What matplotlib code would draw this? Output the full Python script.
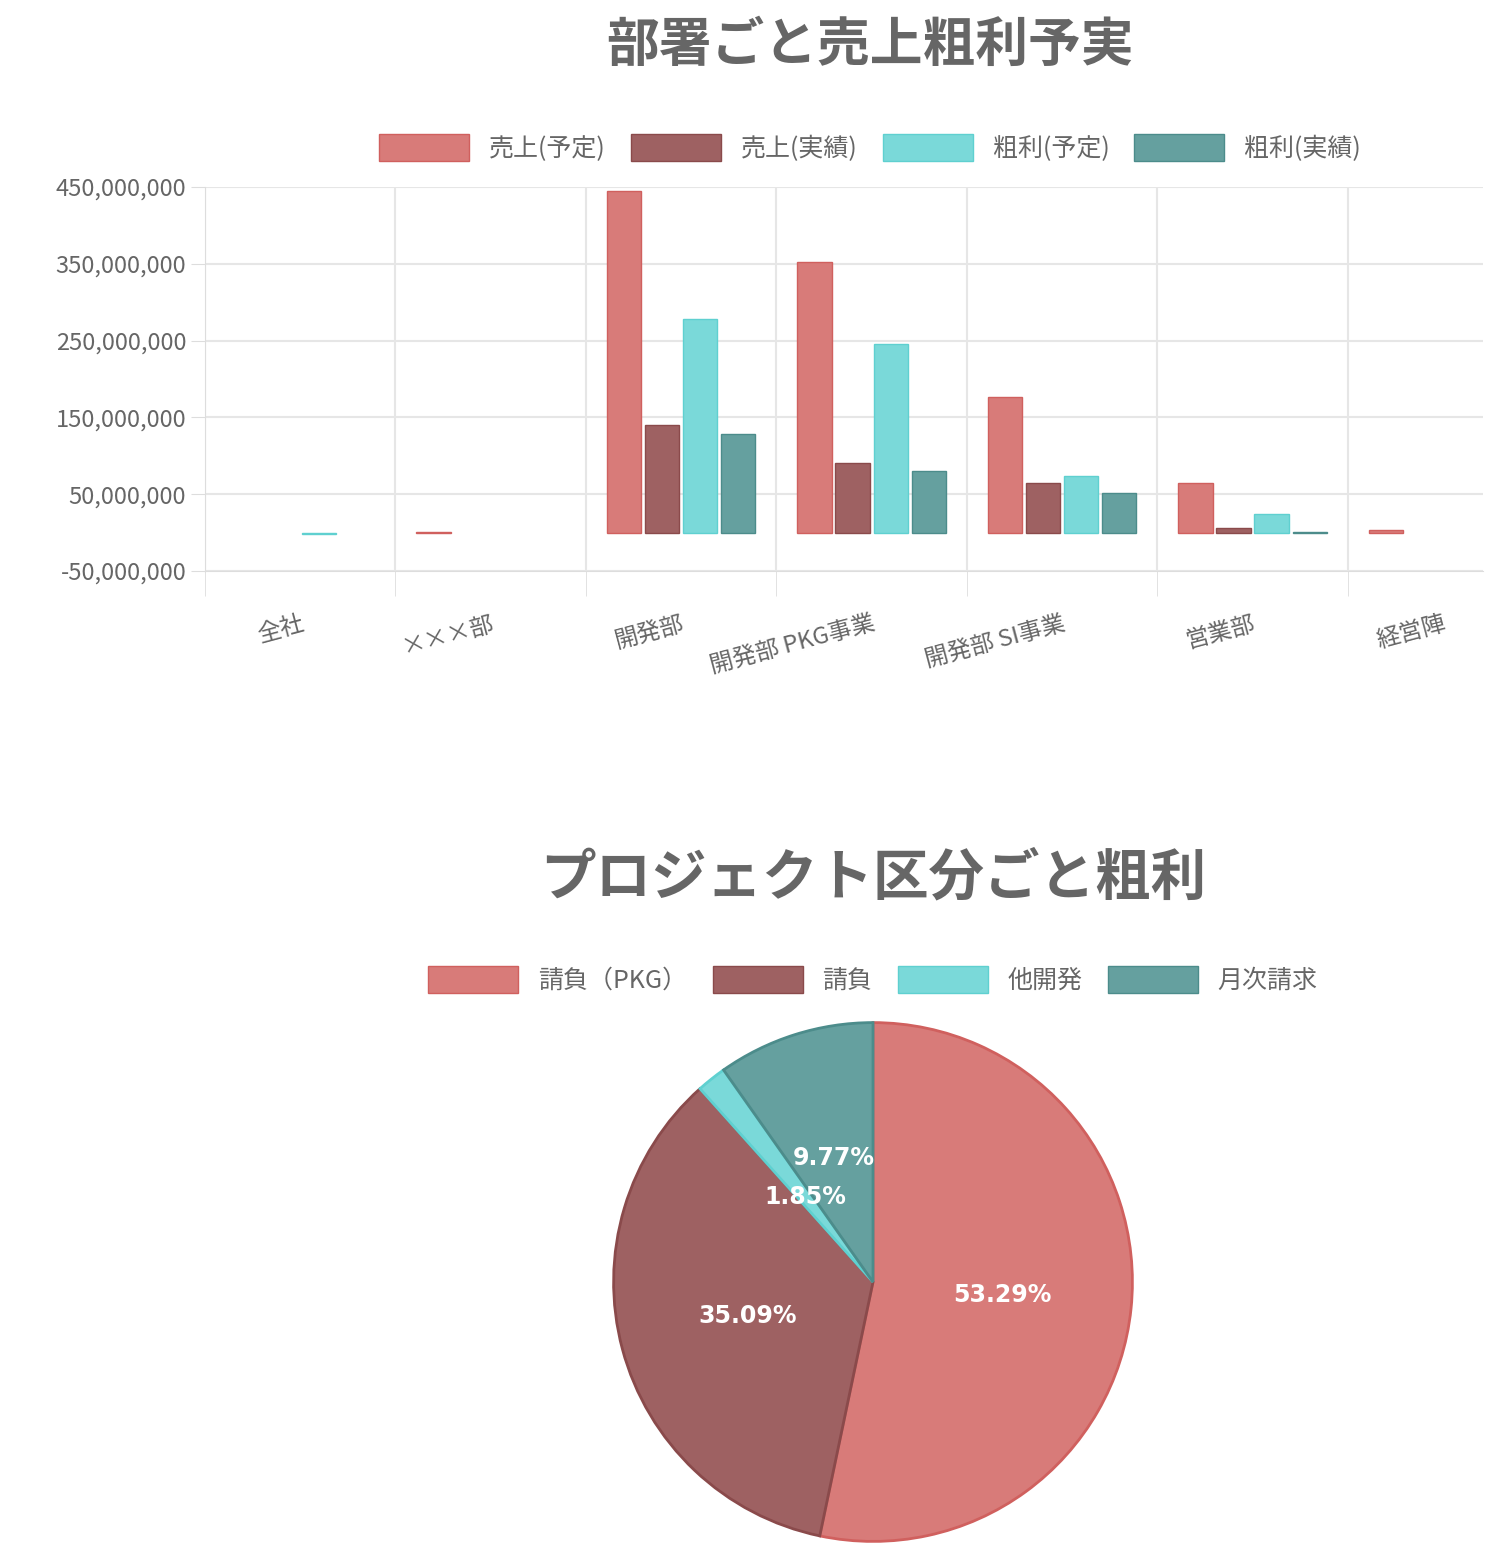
import matplotlib.pyplot as plt
from matplotlib.patches import Patch
import numpy as np

plt.rcParams['font.family'] = ['Noto Sans CJK JP', 'DejaVu Sans']

departments = ["全社", "×××部", "開発部", "開発部 PKG事業", "開発部 SI事業", "営業部", "経営陣"]
series_names = ["売上(予定)", "売上(実績)", "粗利(予定)", "粗利(実績)"]
sales_plan = [0, 1_000_000, 445_000_000, 352_000_000, 177_000_000, 64_000_000, 4_000_000]
sales_actual = [0, 0, 140_000_000, 90_000_000, 64_000_000, 6_000_000, 0]
profit_plan = [-2_000_000, 0, 278_000_000, 246_000_000, 74_000_000, 24_000_000, 0]
profit_actual = [0, 0, 128_000_000, 80_000_000, 52_000_000, 1_000_000, 0]

pie_labels = ["請負（PKG）", "請負", "他開発", "月次請求"]
pie_values = [53.29, 35.09, 1.85, 9.77]

fills = ["#d87b79", "#9e6162", "#7ad9d9", "#65a09f"]
edges = ["#d0605e", "#8a4a4b", "#5fd0d0", "#4c8c8b"]
text_gray = "#666666"

fig = plt.figure(figsize=(14.85, 15.51), dpi=100)

# bar chart
ax = fig.add_axes([205 / 1485, 1 - 571 / 1551, 1278 / 1485, 384 / 1551])
x = np.arange(len(departments))
for i, vals in enumerate([sales_plan, sales_actual, profit_plan, profit_actual]):
    bars = ax.bar(x + (i - 1.5) * 0.2, vals, width=0.18, color=fills[i], edgecolor=edges[i], linewidth=1)
    for b, v in zip(bars, vals):
        if v == 0:
            b.set_visible(False)
ax.set_ylim(-50_000_000, 450_000_000)
ax.set_yticks(np.arange(-50_000_000, 450_000_001, 100_000_000))
ax.yaxis.set_major_formatter(lambda v, p: f"{int(v):,}")
ax.set_xlim(-0.5, 6.21)
ax.set_xticks(x)
ax.set_xticklabels(departments, rotation=15, ha="right", rotation_mode="anchor")
ax.set_xticks(np.arange(-0.5, 6.5, 1), minor=True)
ax.grid(True, which="major", axis="y", color="#e6e6e6", linewidth=1.5)
ax.grid(True, which="minor", axis="x", color="#e6e6e6", linewidth=1.5)
ax.tick_params(axis="x", which="major", length=0, labelsize=17, colors=text_gray, pad=30)
ax.tick_params(axis="x", which="minor", length=18, color="#dddddd")
ax.tick_params(axis="y", labelsize=17, colors=text_gray, length=10, color="#dddddd")
ax.set_axisbelow(True)
for s in ["top", "right"]:
    ax.spines[s].set_visible(False)
for s in ["left", "bottom"]:
    ax.spines[s].set_color("#dddddd")

fig.text(870 / 1485, 1 - 45 / 1551, "部署ごと売上粗利予実", ha="center", va="center",
         fontsize=38, fontweight="bold", color=text_gray)
handles = [Patch(facecolor=fills[i], edgecolor=edges[i], label=series_names[i]) for i in range(4)]
fig.legend(handles=handles, loc="center", bbox_to_anchor=(870 / 1485, 1 - 148 / 1551), ncol=4,
           frameon=False, fontsize=18, handlelength=3.6, handleheight=1.3, columnspacing=1.0,
           labelcolor=text_gray)

# pie chart
pax = fig.add_axes([(873 - 262) / 1485, 1 - (1282 + 262) / 1551, 524 / 1485, 524 / 1551])
wedges, _ = pax.pie(pie_values, colors=fills, startangle=90, counterclock=False,
                    wedgeprops=dict(edgecolor="none"))
for w, e in zip(wedges, edges):
    w.set_edgecolor(e)
    w.set_linewidth(2)
cum = 0
for v in pie_values:
    mid = np.deg2rad(90 - (cum + v / 2) * 3.6)
    r = 0.5 if v > 5 else 0.42
    pax.text(r * np.cos(mid), r * np.sin(mid), f"{v:.2f}%", ha="center", va="center",
             color="white", fontsize=17, fontweight="bold", family="DejaVu Sans")
    cum += v
pax.set_xlim(-1.01, 1.01)
pax.set_ylim(-1.01, 1.01)
pax.set_aspect("equal")

fig.text(873 / 1485, 1 - 878 / 1551, "プロジェクト区分ごと粗利", ha="center", va="center",
         fontsize=40, fontweight="bold", color=text_gray)
handles = [Patch(facecolor=fills[i], edgecolor=edges[i], label=pie_labels[i]) for i in range(4)]
fig.legend(handles=handles, loc="center", bbox_to_anchor=(873 / 1485, 1 - 980 / 1551), ncol=4,
           frameon=False, fontsize=18, handlelength=3.6, handleheight=1.3, columnspacing=1.0,
           labelcolor=text_gray)

fig.savefig("out.png", dpi=100)
